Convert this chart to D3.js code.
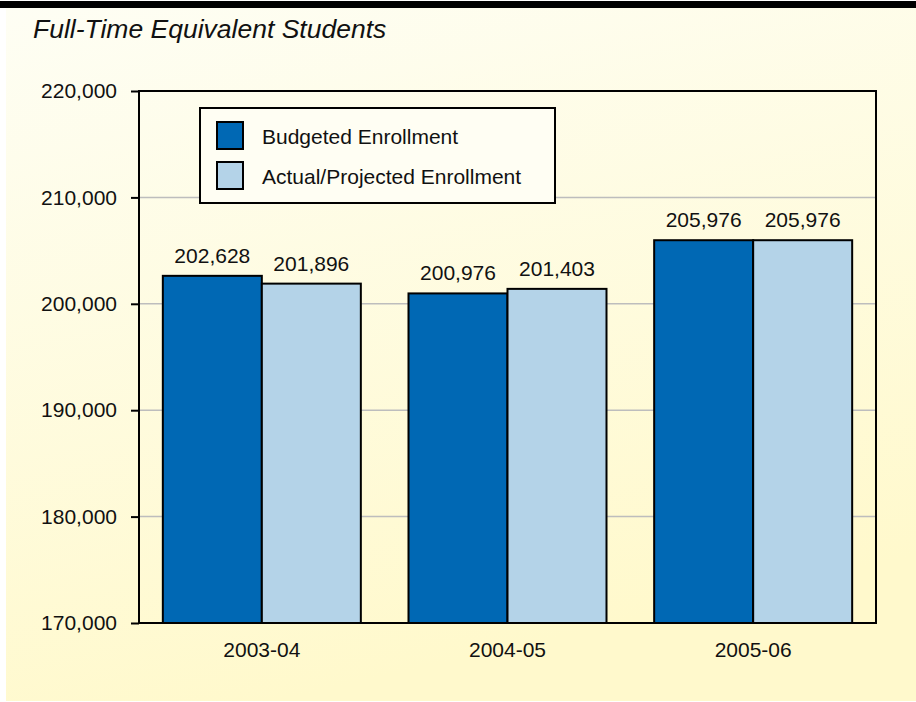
<!DOCTYPE html>
<html>
<head>
    <meta charset="UTF-8">
    <title>Full-Time Equivalent Students</title>
    <script src="https://d3js.org/d3.v7.min.js"></script>
    <style>
        body { margin: 0; background: #ffffff; }
        svg text { font-family: "Liberation Sans", Arial, Helvetica, sans-serif; fill: #111; }
    </style>
</head>
<body>
    <svg id="chart"></svg>

    <script>
        // dane
        const years = ['2003-04', '2004-05', '2005-06'];
        const budgeted = [202628, 200976, 205976];
        const actual = [201896, 201403, 205976];
        const seriesNames = ['Budgeted Enrollment', 'Actual/Projected Enrollment'];
        const seriesColors = ['#0068b4', '#b4d3e8'];
        const yTicks = [170000, 180000, 190000, 200000, 210000, 220000];

        const W = 916, H = 702;
        const margin = { top: 91, right: 40, bottom: 79, left: 139 };
        const width = W - margin.left - margin.right;
        const height = H - margin.top - margin.bottom;
        const fs = 21;

        const svg = d3.select('#chart')
            .attr('width', W)
            .attr('height', H);

        const defs = svg.append('defs');
        const grad = defs.append('linearGradient')
            .attr('id', 'bg')
            .attr('x1', '0%').attr('y1', '0%')
            .attr('x2', '30%').attr('y2', '100%');
        grad.append('stop').attr('offset', '0%').attr('stop-color', '#fefef4');
        grad.append('stop').attr('offset', '100%').attr('stop-color', '#fff9cc');

        // tło
        svg.append('rect')
            .attr('x', 6).attr('y', 8)
            .attr('width', W - 6).attr('height', H - 9)
            .attr('fill', 'url(#bg)');

        svg.append('rect')
            .attr('x', 0).attr('y', 1)
            .attr('width', W).attr('height', 7)
            .attr('fill', '#000');

        svg.append('text')
            .attr('x', 33)
            .attr('y', 38)
            .attr('font-size', 26.5)
            .attr('font-style', 'italic')
            .text('Full-Time Equivalent Students');

        const g = svg.append('g')
            .attr('transform', `translate(${margin.left},${margin.top})`);

        const x = d3.scaleBand()
            .domain(years)
            .range([0, width])
            .paddingInner(0.194)
            .paddingOuter(0.097);

        const x1 = d3.scaleBand()
            .domain([0, 1])
            .range([0, x.bandwidth()]);

        const y = d3.scaleLinear()
            .domain([170000, 220000])
            .range([height, 0]);

        // siatka
        g.append('g')
            .selectAll('line')
            .data(yTicks.slice(1, -1))
            .enter().append('line')
            .attr('x1', 0)
            .attr('x2', width)
            .attr('y1', d => y(d))
            .attr('y2', d => y(d))
            .attr('stroke', '#bdbdbd')
            .attr('stroke-width', 1.5);

        // słupki
        const data = years.map((yr, i) => ({ year: yr, values: [budgeted[i], actual[i]] }));

        const groups = g.selectAll('.grp')
            .data(data)
            .enter().append('g')
            .attr('class', 'grp')
            .attr('transform', d => `translate(${x(d.year)},0)`);

        groups.selectAll('rect')
            .data(d => d.values.map((v, k) => ({ v, k })))
            .enter().append('rect')
            .attr('x', d => x1(d.k))
            .attr('y', d => y(d.v))
            .attr('width', x1.bandwidth())
            .attr('height', d => height - y(d.v))
            .attr('fill', d => seriesColors[d.k])
            .attr('stroke', '#000')
            .attr('stroke-width', 2);

        groups.selectAll('.val')
            .data(d => d.values.map((v, k) => ({ v, k })))
            .enter().append('text')
            .attr('class', 'val')
            .attr('x', d => x1(d.k) + x1.bandwidth() / 2)
            .attr('y', d => y(d.v) - 13)
            .attr('text-anchor', 'middle')
            .attr('font-size', fs)
            .text(d => d3.format(',')(d.v));

        // osie
        const yAxis = g.append('g')
            .call(d3.axisLeft(y).tickValues(yTicks).tickFormat(d3.format(',')).tickSize(8).tickPadding(14));
        yAxis.select('.domain').remove();
        yAxis.selectAll('.tick line').attr('stroke', '#000').attr('stroke-width', 2);
        yAxis.selectAll('.tick text')
            .attr('font-size', fs)
            .attr('font-family', '"Liberation Sans", Arial, sans-serif')
            .attr('fill', '#111');

        const xAxis = g.append('g')
            .attr('transform', `translate(0,${height})`)
            .call(d3.axisBottom(x).tickSize(0).tickPadding(19));
        xAxis.select('.domain').remove();
        xAxis.selectAll('.tick text')
            .attr('font-size', fs)
            .attr('font-family', '"Liberation Sans", Arial, sans-serif')
            .attr('fill', '#111');

        g.append('rect')
            .attr('x', 0).attr('y', 0)
            .attr('width', width).attr('height', height)
            .attr('fill', 'none')
            .attr('stroke', '#000')
            .attr('stroke-width', 2);

        // legenda
        const legend = g.append('g')
            .attr('transform', `translate(${200 - margin.left},${108 - margin.top})`);

        legend.append('rect')
            .attr('width', 355)
            .attr('height', 95)
            .attr('fill', '#fffef3')
            .attr('stroke', '#000')
            .attr('stroke-width', 2);

        seriesNames.forEach((name, i) => {
            legend.append('rect')
                .attr('x', 17)
                .attr('y', 14 + i * 40)
                .attr('width', 26)
                .attr('height', 27)
                .attr('fill', seriesColors[i])
                .attr('stroke', '#000')
                .attr('stroke-width', 2);
            legend.append('text')
                .attr('x', 62)
                .attr('y', 36 + i * 40)
                .attr('font-size', fs)
                .text(name);
        });
    </script>
</body>
</html>
